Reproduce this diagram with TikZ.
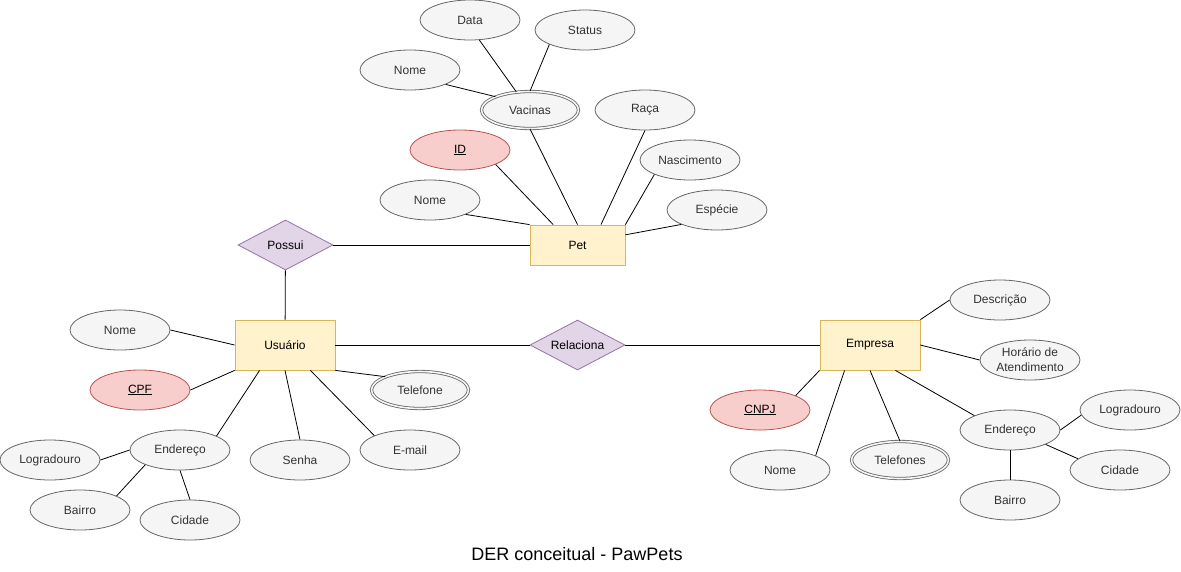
\documentclass[tikz,border=0pt]{standalone}
\usepackage{fontspec}
\setmainfont{Liberation Sans}
\usetikzlibrary{shapes.geometric}

\definecolor{attrfill}{HTML}{F5F5F5}
\definecolor{attrline}{HTML}{666666}
\definecolor{attrtext}{HTML}{333333}
\definecolor{entfill}{HTML}{FFF2CC}
\definecolor{entline}{HTML}{D6B656}
\definecolor{relfill}{HTML}{E1D5E7}
\definecolor{relline}{HTML}{9673A6}
\definecolor{keyfill}{HTML}{F8CECC}
\definecolor{keyline}{HTML}{B85450}

\tikzset{
    attr/.style={draw=attrline, fill=attrfill, text=attrtext, ellipse, line width=0.8pt,
        minimum width=100pt, minimum height=40pt, inner sep=0pt},
    keyattr/.style={attr, draw=keyline, fill=keyfill, text=black},
    multi/.style={attr, double=attrfill, double distance=1.6pt,
        minimum width=97pt, minimum height=37pt},
    entity/.style={draw=entline, fill=entfill, line width=0.8pt,
        minimum width=100pt, minimum height=50pt, inner sep=0pt},
    rel/.style={draw=relline, fill=relfill, diamond, aspect=2, line width=0.8pt,
        minimum width=95pt, minimum height=50pt, inner sep=0pt},
    link/.style={line width=0.8pt}
}

\begin{document}
\begin{tikzpicture}[x=1pt, y=-1pt, font=\fontsize{12}{15}\selectfont]
    \useasboundingbox (0,0) rectangle (1181,571);

    % Pet
    \node (pet) [entity, minimum width=95pt, minimum height=40pt] at (577.5,245) {Pet};
    \node (vacinas) [multi] at (530,110) {Vacinas};
    \node (vacdata) [attr] at (470,20) {Data};
    \node (vacstatus) [attr] at (585,30) {Status};
    \node (vacnome) [attr] at (410,70) {Nome};
    \node (petraca) [attr] at (645,110) {Raça};
    \node (petid) [keyattr] at (460,150) {\underline{ID}};
    \node (petnasc) [attr] at (690,160) {Nascimento};
    \node (petnome) [attr] at (430,200) {Nome};
    \node (petespecie) [attr] at (717,210) {Espécie};

    \node (possui) [rel] at (285.5,245) {Possui};
    \node (relaciona) [rel] at (577.5,345) {Relaciona};

    % Usuario
    \node (usuario) [entity] at (285,345) {Usuário};
    \node (usunome) [attr] at (120,330) {Nome};
    \node (usucpf) [keyattr] at (140,390) {\underline{CPF}};
    \node (usutel) [multi] at (420,390) {Telefone};
    \node (usuend) [attr] at (180,450) {Endereço};
    \node (usulogr) [attr] at (50,460) {Logradouro};
    \node (usubairro) [attr] at (80,510) {Bairro};
    \node (usucidade) [attr] at (190,520) {Cidade};
    \node (ususenha) [attr] at (300,460) {Senha};
    \node (usuemail) [attr] at (410,450) {E-mail};

    % Empresa
    \node (empresa) [entity] at (870,345) {Empresa};
    \node (empdesc) [attr] at (1000,300) {Descrição};
    \node (emphor) [attr, align=center] at (1030,360) {Horário de\\Atendimento};
    \node (empcnpj) [keyattr] at (760,410) {\underline{CNPJ}};
    \node (empnome) [attr] at (780,470) {Nome};
    \node (emptel) [multi] at (900,460) {Telefones};
    \node (empend) [attr] at (1010,430) {Endereço};
    \node (emplogr) [attr] at (1130,410) {Logradouro};
    \node (empcidade) [attr] at (1120,470) {Cidade};
    \node (empbairro) [attr] at (1010,500) {Bairro};

    \node (titulo) at (577,554) {\fontsize{18}{20}\selectfont DER conceitual - PawPets};

    % ligacoes
    \draw[link] (vacdata.-65) -- (vacinas.127);
    \draw[link] (vacstatus.south west) -- (vacinas.north);
    \draw[link] (vacnome.south east) -- (vacinas.north west);
    \draw[link] (vacinas.south) -- (pet.north);
    \draw[link] (petraca.south) -- (pet.41);
    \draw[link] (petid.south east) -- (pet.140);
    \draw[link] (petnasc.south west) -- (pet.north east);
    \draw[link] (petnome.south east) -- (pet.north west);
    \draw[link] (petespecie.south west) -- (pet.12);
    \draw[link] (possui) -- (pet);
    \draw[link] (possui) -- (usuario);

    \draw[link] (usunome.east) -- (usuario.west);
    \draw[link] (usucpf.east) -- (usuario.south west);
    \draw[link] (usutel.159) -- (usuario.south east);
    \draw[link] (usuend.21) -- (usuario.-135);
    \draw[link] (ususenha.north) -- (usuario.south);
    \draw[link] (usuemail.158) -- (usuario.-45);
    \draw[link] (usulogr.east) -- (usuend.west);
    \draw[link] (usubairro.21) -- (usuend.-157);
    \draw[link] (usucidade.north) -- (usuend.south);
    \draw[link] (usuario) -- (relaciona);
    \draw[link] (relaciona) -- (empresa);

    \draw[link] (empdesc.west) -- (empresa.north east);
    \draw[link] (emphor.west) -- (empresa.east);
    \draw[link] (empcnpj.north east) -- (empresa.south west);
    \draw[link] (empnome.north east) -- (empresa.-135);
    \draw[link] (emptel.north) -- (empresa.south);
    \draw[link] (empend.north west) -- (empresa.-45);
    \draw[link] (emplogr.-174) -- (empend.east);
    \draw[link] (empcidade.165) -- (empend.south east);
    \draw[link] (empbairro.north) -- (empend.south);
\end{tikzpicture}
\end{document}
